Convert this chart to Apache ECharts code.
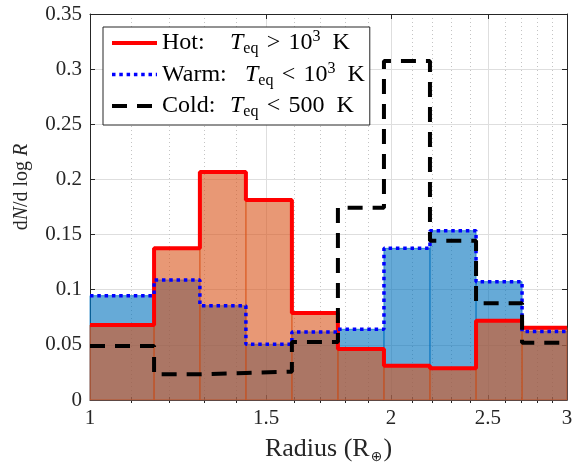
<!DOCTYPE html>
<html>
<head>
<meta charset="utf-8">
<script src="https://cdn.jsdelivr.net/npm/echarts@6/dist/echarts.min.js"></script>
<style>
html, body { margin: 0; padding: 0; background: #fff; }
#chart { width: 572px; height: 462px; }
</style>
</head>
<body>
<div id="chart"></div>
<script>
// bin edges in Earth radii (log spaced) and the density of each bin
var binEdges = [1, 1.159, 1.288, 1.432, 1.592, 1.770, 1.968, 2.188, 2.433, 2.705, 3];
var hotValues = [0.068, 0.1375, 0.2067, 0.1813, 0.0789, 0.0462, 0.0311, 0.0287, 0.0719, 0.0656];
var warmValues = [0.0946, 0.1088, 0.0855, 0.0505, 0.0617, 0.0641, 0.1375, 0.1535, 0.1073, 0.0620];
var coldValues = [0.049, 0.0233, 0.0245, 0.0257, 0.0526, 0.1744, 0.3074, 0.1445, 0.0877, 0.052];
var seriesNames = ['Hot', 'Warm', 'Cold'];
var xMajorTicks = [1, 1.5, 2, 2.5, 3];
var xMinorTicks = [1.1, 1.2, 1.3, 1.4, 1.6, 1.7, 1.8, 1.9, 2.1, 2.2, 2.3, 2.4, 2.6, 2.7, 2.8, 2.9];

var FONT = 'Liberation Serif';
var AXIS_COL = '#262626';

function toSteps(values){
	var pts = [];
	for(var i = 0; i < values.length; ++i){
		pts.push([binEdges[i], values[i]]);
		pts.push([binEdges[i + 1], values[i]]);
	}
	return pts;
}

function toBins(values){
	var bins = [];
	for(var i = 0; i < values.length; ++i){
		bins.push([binEdges[i], binEdges[i + 1], values[i]]);
	}
	return bins;
}

function binFill(name, values, fill, stroke){
	return {
		name: name,
		type: 'custom',
		xAxisIndex: 0,
		yAxisIndex: 0,
		silent: true,
		data: toBins(values),
		encode: { x: [0, 1], y: 2 },
		renderItem: function(params, api){
			var p0 = api.coord([api.value(0), api.value(2)]);
			var p1 = api.coord([api.value(1), 0]);
			return {
				type: 'rect',
				shape: { x: p0[0], y: p0[1], width: p1[0] - p0[0], height: p1[1] - p0[1] },
				style: { fill: fill, stroke: stroke, lineWidth: 0.8 }
			};
		}
	};
}

function stepLine(name, values, color, width, type){
	return {
		name: name,
		type: 'line',
		xAxisIndex: 0,
		yAxisIndex: 0,
		data: toSteps(values),
		symbol: 'none',
		showSymbol: false,
		lineStyle: { color: color, width: width, type: type, cap: 'butt' },
		itemStyle: { color: color }
	};
}

var legendText = {
	'Hot': '{lab1|Hot:}{it|T}{sub|eq}{op|>}{num|10}{sup|3}{k|K}',
	'Warm': '{lab2|Warm:}{it|T}{sub|eq}{op|<}{num|10}{sup|3}{k|K}',
	'Cold': '{lab3|Cold:}{it|T}{sub|eq}{op|<}{num|500}{k|K}'
};

function logAxis(pos, ticks, len, extra){
	var ax = {
		type: 'log',
		logBase: 10,
		min: 1,
		max: 3,
		position: pos,
		axisLine: { show: false },
		axisTick: { show: true, inside: true, length: len, customValues: ticks, lineStyle: { color: AXIS_COL } },
		axisLabel: { show: false },
		splitLine: { show: false }
	};
	for(var k in extra){ ax[k] = extra[k]; }
	return ax;
}

var LH = 28;
var option = {
	animation: false,
	grid: { left: 90, right: 5, top: 14, bottom: 62, outerBoundsMode: 'none', containLabel: false },
	legend: {
		data: seriesNames,
		orient: 'vertical',
		left: 103,
		top: 27,
		padding: [2, 5, 5, 7],
		itemWidth: 45,
		itemHeight: 20,
		itemGap: 3.5,
		backgroundColor: '#fff',
		borderColor: AXIS_COL,
		borderWidth: 1,
		itemStyle: { color: 'rgba(0,0,0,0)', borderColor: 'rgba(0,0,0,0)', borderWidth: 0 },
		lineStyle: { width: 'inherit', type: 'inherit', color: 'inherit' },
		formatter: function(name){ return legendText[name]; },
		textStyle: {
			fontFamily: FONT,
			fontSize: 24,
			lineHeight: LH,
			color: '#000',
			rich: {
				lab1: { fontFamily: FONT, fontSize: 24, lineHeight: LH, color: '#000', width: 68, align: 'left' },
				lab2: { fontFamily: FONT, fontSize: 24, lineHeight: LH, color: '#000', width: 83, align: 'left' },
				lab3: { fontFamily: FONT, fontSize: 24, lineHeight: LH, color: '#000', width: 68, align: 'left' },
				it: { fontFamily: FONT, fontSize: 24, lineHeight: LH, fontStyle: 'italic', color: '#000' },
				sub: { fontFamily: FONT, fontSize: 16, lineHeight: LH, color: '#000', verticalAlign: 'bottom' },
				sup: { fontFamily: FONT, fontSize: 16, lineHeight: LH, color: '#000', verticalAlign: 'top' },
				op: { fontFamily: FONT, fontSize: 24, lineHeight: LH, color: '#000', width: 30, align: 'center' },
				num: { fontFamily: FONT, fontSize: 24, lineHeight: LH, color: '#000' },
				k: { fontFamily: FONT, fontSize: 24, lineHeight: LH, color: '#000', padding: [0, 0, 0, 12] }
			}
		}
	},
	xAxis: [
		logAxis('bottom', xMajorTicks, 5, {
			axisLine: { show: true, onZero: false, lineStyle: { color: AXIS_COL, width: 1 } },
			axisLabel: { show: true, customValues: xMajorTicks, fontFamily: FONT, fontSize: 21, color: AXIS_COL, margin: 8 },
			splitLine: { show: true, lineStyle: { color: '#dedede', width: 1 } },
			name: 'Radius (R{sub|⊕})',
			nameLocation: 'middle',
			nameGap: 34,
			nameTextStyle: {
				fontFamily: FONT, fontSize: 26, lineHeight: 30, color: AXIS_COL,
				rich: { sub: { fontFamily: 'DejaVu Sans', fontSize: 14, lineHeight: 30, color: AXIS_COL, verticalAlign: 'bottom', padding: [0, 1, 0, 1] } }
			}
		}),
		logAxis('bottom', xMinorTicks, 3, {
			splitLine: { show: true, lineStyle: { color: '#c4c4c4', width: 1, type: [1, 3] } }
		}),
		logAxis('top', xMajorTicks, 5, {
			axisLine: { show: true, onZero: false, lineStyle: { color: AXIS_COL, width: 1 } }
		}),
		logAxis('top', xMinorTicks, 3, {})
	],
	yAxis: [
		{
			type: 'value',
			min: 0,
			max: 0.35,
			interval: 0.05,
			position: 'left',
			axisLine: { show: true, onZero: false, lineStyle: { color: AXIS_COL, width: 1 } },
			axisTick: { show: true, inside: true, length: 5, lineStyle: { color: AXIS_COL } },
			axisLabel: { fontFamily: FONT, fontSize: 21, color: AXIS_COL, margin: 8 },
			splitLine: { show: true, lineStyle: { color: '#dedede', width: 1 } },
			name: 'd{it|N}/d log {it|R}',
			nameLocation: 'middle',
			nameRotate: 90,
			nameGap: 58,
			nameTextStyle: {
				fontFamily: FONT, fontSize: 20, color: AXIS_COL, padding: [0, 0, 0, 40],
				rich: { it: { fontFamily: FONT, fontSize: 20, fontStyle: 'italic', color: AXIS_COL } }
			}
		},
		{
			type: 'value',
			min: 0,
			max: 0.35,
			interval: 0.05,
			position: 'right',
			axisLine: { show: true, onZero: false, lineStyle: { color: AXIS_COL, width: 1 } },
			axisTick: { show: true, inside: true, length: 5, lineStyle: { color: AXIS_COL } },
			axisLabel: { show: false },
			splitLine: { show: false }
		}
	],
	series: [
		binFill('warmFill', warmValues, 'rgba(0,114,189,0.6)', 'rgba(0,114,189,0.9)'),
		binFill('hotFill', hotValues, 'rgba(217,83,25,0.6)', 'rgba(217,83,25,0.9)'),
		stepLine('Hot', hotValues, '#ff0000', 4, 'solid'),
		stepLine('Warm', warmValues, '#0000ff', 3.5, [3.5, 3.8]),
		stepLine('Cold', coldValues, '#000000', 4, [15, 10])
	]
};

var myChart = echarts.init(document.getElementById('chart'));
myChart.setOption(option);
</script>
</body>
</html>
